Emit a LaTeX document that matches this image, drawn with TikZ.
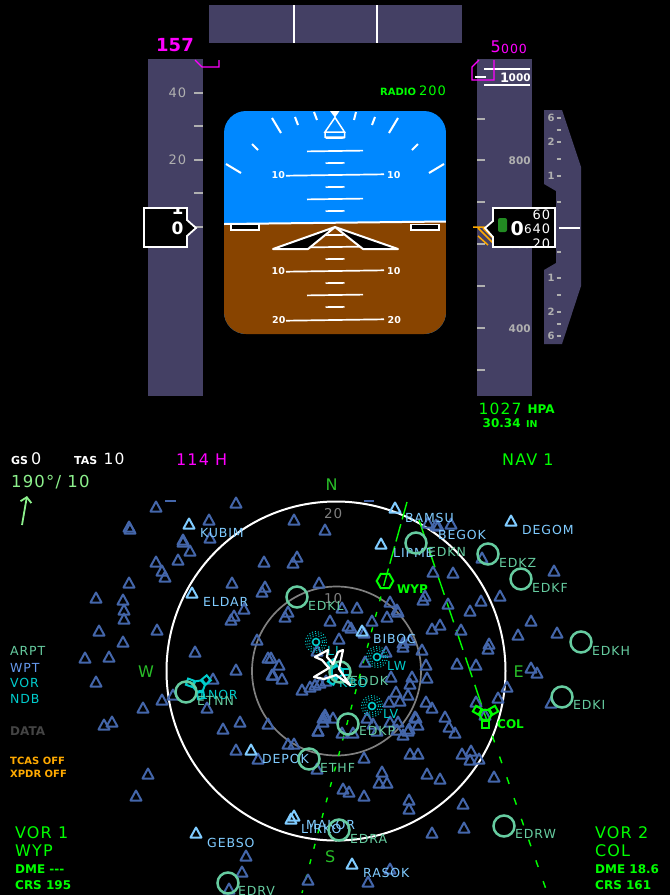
\documentclass[tikz,border=0pt]{standalone}
\usepackage{fontspec}
\setmainfont[LetterSpace=7,BoldFeatures={LetterSpace=0}]{DejaVu Sans}
\usetikzlibrary{arrows.meta,shapes.geometric}
\definecolor{tape}{RGB}{68,64,100}
\definecolor{sky}{RGB}{0,136,255}
\definecolor{ground}{RGB}{136,68,0}
\definecolor{scalegray}{RGB}{176,176,176}
\definecolor{navgreen}{RGB}{0,255,0}
\definecolor{compass}{RGB}{40,190,40}
\definecolor{airport}{RGB}{102,204,160}
\definecolor{waypoint}{RGB}{128,204,255}
\definecolor{navblue}{RGB}{68,102,170}
\definecolor{radio}{RGB}{0,204,204}
\definecolor{amber}{RGB}{255,170,0}
\definecolor{windgreen}{RGB}{140,240,140}
\definecolor{bugpink}{RGB}{255,0,255}
\definecolor{wptblue}{RGB}{102,153,238}
\definecolor{datagray}{RGB}{68,68,68}
\definecolor{pilotgreen}{RGB}{34,139,34}
\newcommand{\fs}[1]{\fontsize{#1}{#1}\selectfont}
\newcommand{\vorsym}[4]{%
  \begin{scope}[shift={(#1,#2)},#4,line width=2]
    \draw (#3:6) -- (#3+60:6) -- (#3+120:6) -- (#3+180:6) -- (#3+240:6) -- (#3+300:6) -- cycle;
    \foreach \a in {90,210,330}
      \node[draw,rectangle,minimum size=6.5,inner sep=0,rotate={-(\a+(#3))}] at (#3+\a:9.5) {};
  \end{scope}}
\tikzset{
  txt/.style={inner sep=0,anchor=west,text depth=0pt},
  tick/.style={scalegray,line width=1.5},
  rung/.style={white,line width=1.7},
  bank/.style={white,line width=2},
  course/.style={navgreen,line width=1.4},
  box/.style={white,fill=black,line width=1.8}
}
\begin{document}
\begin{tikzpicture}[x=1pt,y=-1pt]
  \useasboundingbox (0,0) rectangle (670,895);
  \fill[black] (0,0) rectangle (670,895);

  % Heading strip
  \fill[tape] (209,5) rectangle (462,43);
  \draw[white,line width=2] (293.5,5) -- (293.5,43) (376.5,5) -- (376.5,43);

  % Speed tape
  \fill[tape] (148,59) rectangle (203,396);
  \foreach \y in {93,126,160,193,227}
    \draw[tick] (194,\y) -- (203,\y);
  \node[txt,scalegray,font=\fs{13}] (spd40) at (168.5,93) {40};
  \node[txt,scalegray,font=\fs{13}] (spd20) at (168.5,160) {20};
  \draw[bugpink,line width=1.4] (195,60) -- (202,67) -- (219,67) -- (219,60);
  \node[txt,bugpink,font=\fs{18}\bfseries] (spdset) at (156,45) {157};
  \draw[box] (144,208) -- (187,208) -- (187,220) -- (196,228) -- (187,236) -- (187,247) -- (144,247) -- cycle;
  \begin{scope}
    \clip (145,209) rectangle (186,246);
    \node[white,inner sep=0,anchor=base,font=\fs{17}\bfseries] (spdtop) at (177.5,214) {1};
    \node[white,inner sep=0,anchor=base,font=\fs{17}\bfseries] (spdlow) at (177.5,234) {0};
  \end{scope}

  % Attitude ball
  \begin{scope}
    \clip[rounded corners=22] (224,111) rectangle (446,334);
    \fill[sky] (224,111) rectangle (446,334);
    \fill[ground] (224,224) -- (446,221.5) -- (446,334) -- (224,334) -- cycle;
    \draw[white,line width=2] (224,224) -- (446,221.5);
  \end{scope}
  \foreach \y in {138,163,187,211,235,259,283,307}
    \draw[rung] (325.5,\y+0.13) -- (344.5,\y-0.13);
  \foreach \y in {151,199,247,295}
    \draw[rung] (307,\y+0.4) -- (363,\y-0.4);
  \foreach \y in {175,271,320}
    \draw[rung] (286,\y+0.7) -- (384,\y-0.7);
  \foreach \name/\x/\y/\lab in {pl/271.5/175/10,pr/387/174.5/10,ql/271.5/271/10,qr/387/270.5/10,rl/272/320/20,rr/387.5/319.5/20}
    \node[txt,white,font=\fs{9.5}\bfseries] (\name) at (\x,\y) {\lab};

  % Bank marks
  \draw[bank] (272,118) -- (281,133) (295,117) -- (298,125) (314,112) -- (317,120)
    (354,120) -- (356,112) (372,125) -- (375,117) (389,133) -- (398,118)
    (252,144) -- (258,150) (412,150) -- (418,144) (226,164) -- (241,173) (429,173) -- (444,164);
  \fill[white] (330,111) -- (339.5,111) -- (335,117.5) -- cycle;
  \draw[white,line width=1.5] (335,117.5) -- (325,132) -- (344.5,132) -- cycle (325,132) rectangle (344.5,137);

  % Aircraft reference
  \draw[box] (231,224.5) rectangle (259,230);
  \draw[box] (411,224.5) rectangle (439,230);
  \fill[black] (273,249) -- (335,227) -- (308,249) -- cycle;
  \fill[black] (398,249) -- (335,227) -- (363,249) -- cycle;
  \draw[white,line width=2,line join=round] (273,249) -- (335,227) -- (398,249) -- (363,249) -- (335,227) -- (308,249) -- cycle;

  % Radio altitude
  \node[txt,navgreen,font=\fs{10}\bfseries] (radiolbl) at (380,92) {RADIO};
  \node[txt,navgreen,font=\fs{13}] (radioval) at (419,91) {200};

  % Altitude tape
  \fill[tape] (477,59) rectangle (532,396);
  \foreach \y in {119,160,202,244,286,328,370}
    \draw[tick] (477,\y) -- (485,\y);
  \draw[white,line width=1.5] (475,77) -- (486,77) (484,69) -- (530,69) (484,85) -- (530,85);
  \node[txt,white,font=\fs{13}\bfseries] (alt1) at (500,77.5) {1};
  \node[txt,white,font=\fs{10.5}\bfseries] (alt000) at (508.5,78) {000};
  \node[txt,scalegray,font=\fs{10.5}\bfseries] (alt800) at (508.5,160.5) {800};
  \node[txt,scalegray,font=\fs{10.5}\bfseries] (alt600) at (508.5,244.5) {600};
  \node[txt,scalegray,font=\fs{10.5}\bfseries] (alt400) at (508.5,328.5) {400};
  \draw[bugpink,line width=1.4] (479,60) -- (472,67) -- (472,80) -- (494,80) -- (494,60);
  \node[txt,bugpink,font=\fs{16}] (altset5) at (490.5,47) {5};
  \node[txt,bugpink,font=\fs{12.5}] (altset0) at (501,48.5) {000};

  % Vertical speed
  \fill[tape] (544,110) -- (562,110) -- (581,167) -- (581,286) -- (562,344) -- (544,344) -- (544,270)
    -- (556,263) -- (556,191) -- (544,184) -- cycle;
  \foreach \y in {118,130,142,159,176,202,252,278,295,312,324,336}
    \draw[tick] (556.5,\y) -- (560.5,\y);
  \draw[white,line width=2] (559,227.5) -- (580,227.5);
  \foreach \name/\y/\lab in {va/118/6,vb/142/2,vc/176/1,vd/278/1,ve/312/2,vf/336/6}
    \node[txt,scalegray,font=\fs{10}\bfseries] (\name) at (547.5,\y) {\lab};

  % Amber hatch and altitude readout
  \draw[amber,line width=1.5] (473,227) -- (485,227) (478,228) -- (493,243) (483,228) -- (493,238) (478,236) -- (488,245);
  \draw[box] (493,208) -- (555,208) -- (555,247) -- (493,247) -- (493,237) -- (485,228) -- (493,221) -- cycle;
  \fill[pilotgreen,rounded corners=2] (498,218) rectangle (507,232);
  \node[txt,white,font=\fs{19}\bfseries] (altbig) at (510.5,228) {0};
  \node[txt,white,font=\fs{12}] (altmid) at (524,229) {6};
  \begin{scope}
    \clip (494,209) rectangle (554,246);
    \node[txt,white,font=\fs{13}] (alt60) at (532.5,215) {60};
    \node[txt,white,font=\fs{13}] (alt40) at (532.5,229) {40};
    \node[txt,white,font=\fs{13}] (alt20) at (532.5,243.5) {20};
  \end{scope}
  \node[txt,navgreen,font=\fs{15.5}] (qnh) at (478.5,408.5) {1027};
  \node[txt,navgreen,font=\fs{12}\bfseries] (hpa) at (527.5,409.5) {HPA};
  \node[txt,navgreen,font=\fs{12}\bfseries] (inhg) at (482.5,423) {30.34};
  \node[txt,navgreen,font=\fs{9.5}\bfseries] (inlbl) at (526,424) {IN};

  % Wind and speeds
  \node[txt,white,font=\fs{11}\bfseries] (gslbl) at (11,460) {GS};
  \node[txt,white,font=\fs{16}] (gsval) at (31,458.5) {0};
  \node[txt,white,font=\fs{11}\bfseries] (taslbl) at (74,460) {TAS};
  \node[txt,white,font=\fs{15.5}] (tasval) at (103.5,458.5) {10};
  \node[txt,windgreen,font=\fs{16.5}] (wind) at (11,481) {190°/ 10};
  \coordinate (windtail) at (22,525);
  \coordinate (windtip) at (27,496);
  \draw[windgreen,line width=1.8,-{Straight Barb[length=5,width=11]}] (windtail) -- (windtip);
  \node[txt,bugpink,font=\fs{16}] (hdg) at (176,460) {114 H};
  \node[txt,navgreen,font=\fs{16}] (navmode) at (502,460) {NAV 1};

  % Range rings
  \draw[white,line width=2] (336,671) circle (169.5);
  \draw[gray,line width=1.7] (336.5,671) circle (84.5);
  \foreach \name/\x/\y/\lab in {north/325.5/485/N,west/138/672/W,east/513.5/672/E,south/325/857/S}
    \node[txt,compass,font=\fs{16}] (\name) at (\x,\y) {\lab};
  \node[txt,gray,font=\fs{13.5}] (rng20) at (324,513) {20};
  \node[txt,gray,font=\fs{13.5}] (rng10) at (324,598) {10};

  % Course lines
  \coordinate (wyp) at (385,581);
  \coordinate (col) at (485,715);
  \coordinate (crsa) at (407,502);
  \coordinate (crsb) at (302,893);
  \coordinate (crsc) at (419,520);
  \coordinate (crsd) at (548,895);
  \draw[course,dash pattern=on 18 off 5] (crsa) -- (wyp);
  \draw[course,dash pattern=on 5 off 11] (wyp) -- (crsb);
  \draw[course,dash pattern=on 21 off 8] (crsc) -- (col);
  \draw[course,dash pattern=on 7 off 15] (col) -- (crsd);

  % Fixes
  \foreach \x/\y in {156/507,236/503,129/527,130/529,209/520,294/520,325/530,183/540,183/542,210/538,190/551,178/560,
    156/562,162/571,165/577,264/562,297/557,293/563,129/583,96/598,123/600,124/610,124/619,99/631,157/630,123/642,
    85/658,109/657,195/652,232/583,265/587,262/592,319/583,244/609,234/616,231/620,288/612,285/617,330/621,257/640,
    268/658,279/665,236/670,317/651,428/523,436/525,438/526,451/524,482/558,433/572,453/573,554/571,500/596,481/601,
    448/604,470/611,531/621,518/635,557/633,425/596,423/600,390/602,397/610,398/612,387/617,372/621,357/608,342/608,
    348/626,351/628,364/633,339/639,432/629,440/625,461/630,489/644,488/649,403/643,403/647,410/640,422/650,386/652,
    365/662,426/665,457/664,476/665,531/668,537/673,271/658,273/675,282/679,302/690,310/687,315/685,320/683,326/681,
    391/677,412/677,427/678,410/684,396/692,408/695,389/702,400/701,426/702,432/708,445/717,416/718,418/725,449/727,
    455/733,409/729,403/735,397/730,373/724,367/718,333/718,507/687,498/698,476/702,485/715,551/703,410/754,418/754,
    364/758,462/754,471/751,470/760,479/759,427/774,440/779,494/777,382/772,379/783,387/783,343/789,349/792,364/796,
    409/800,409/809,463/804,464/828,432/833,390/869,368/882,342/733,353/733,96/682,272/675,213/679,173/695,162/700,
    143/708,207/708,240/722,223/729,268/724,112/722,104/725,236/750,258/759,288/744,294/744,317/769,318/731,323/718,
    325/715,148/774,136/796,246/856,242/872,229/889,308/880,325/717,323/722,318/731,377/731,390/722,415/717,398/722,408/731}
    \draw[navblue,line width=2,line join=round] (\x,\y-5.5) -- (\x+5.5,\y+4.5) -- (\x-5.5,\y+4.5) -- cycle;
  \draw[navblue,line width=2] (165,501) -- (176,501) (364,501) -- (374,501);
  \foreach \x/\y in {189/524,192/593,395/508,381/544,511/521,362/631,251/750,294/816,291/819,196/833,352/864}
    \draw[waypoint,line width=2,line join=round] (\x,\y-5.5) -- (\x+5.5,\y+4.5) -- (\x-5.5,\y+4.5) -- cycle;
  \foreach \name/\x/\y in {KUBIM/200/533,ELDAR/203/602,BAMSU/405/518,BEGOK/438/535,DEGOM/522/530,LIPME/393/553,
    BIBOC/373/639,DEPOK/262/759,MAKOR/306/825,LIRKO/301/829,GEBSO/207/843,RASOK/363/873}
    \node[txt,waypoint,font=\fs{12.5}] (\name) at (\x,\y) {\name};

  % Radio beacons
  \foreach \name/\x/\y in {LJ/316/642,LW/377/657,LV/372/706}{
    \draw[radio,line width=1.6] (\x,\y) circle (3.5);
    \draw[radio,line width=1,dotted] (\x,\y) circle (6.5) (\x,\y) circle (8.5) (\x,\y) circle (10.5);
  }
  \node[txt,radio,font=\fs{12.5}] (LJlbl) at (327,651) {LJ};
  \node[txt,radio,font=\fs{12.5}] (LWlbl) at (387,665.5) {LW};
  \node[txt,radio,font=\fs{12.5}] (LVlbl) at (383,713.5) {LV};
  \vorsym{199}{686}{-10}{radio}
  \vorsym{337}{672}{30}{radio}
  \node[txt,radio,font=\fs{12.5}] (LNOR) at (200,695) {LNOR};
  \node[txt,radio,font=\fs{12.5}] (KBO) at (339,683) {KBO};

  % Airports
  \foreach \x/\y in {297/597,416/543,488/554,521/579,581/642,562/697,348/724,309/759,186/692,339/830,504/826,228/883,340/672}
    \draw[airport,line width=2.5] (\x,\y) circle (10.5);
  \foreach \name/\x/\y in {EDKL/308/606,EDKN/428/552,EDKZ/499/563,EDKF/532/588,EDKH/592/651,EDKI/573/705,EDKP/359/731,
    ETHF/320/768,ETNN/197/701,EDRA/350/839,EDRW/515/834,EDRV/238/891,EDDK/350/681}
    \node[txt,airport,font=\fs{12.5}] (\name) at (\x,\y) {\name};

  % Tuned stations
  \draw[navgreen,line width=2] (393.3,581) -- (389.2,588.2) -- (380.8,588.2) -- (376.7,581) -- (380.8,573.8) -- (389.2,573.8) -- cycle;
  \vorsym{485.5}{715}{0}{navgreen}
  \node[txt,navgreen,font=\fs{12}\bfseries] (WYP) at (397,589.5) {WYP};
  \node[txt,navgreen,font=\fs{12}\bfseries] (COL) at (497,724) {COL};

  % Own aircraft
  \draw[white,line width=2.2,line join=round] (350,685) -- (339,669) -- (343,650) -- (338,652) -- (333,664) -- (327,657)
    -- (328,650) -- (315,657) -- (322,660) -- (329,668) -- (314,677) -- (324,679) -- (336,675) -- cycle;

  % Legend
  \node[txt,airport,font=\fs{12.5}] (lgarpt) at (10,651) {ARPT};
  \node[txt,wptblue,font=\fs{12.5}] (lgwpt) at (10,667.5) {WPT};
  \node[txt,radio,font=\fs{12.5}] (lgvor) at (10,683) {VOR};
  \node[txt,radio,font=\fs{12.5}] (lgndb) at (10,699) {NDB};
  \node[txt,datagray,font=\fs{12}\bfseries] (lgdata) at (10,731) {DATA};
  \node[txt,amber,font=\fs{10}\bfseries] (tcas) at (10,761) {TCAS OFF};
  \node[txt,amber,font=\fs{10}\bfseries] (xpdr) at (10,774) {XPDR OFF};

  % Navaid read-outs
  \foreach \name/\x/\y/\fsz/\lab in {voraa/15/832.5/16/VOR 1,vorab/15/851/16/WYP,vorba/595/832.5/16/VOR 2,vorbb/595/851/16/COL}
    \node[txt,navgreen,font=\fs{\fsz}] (\name) at (\x,\y) {\lab};
  \foreach \name/\x/\y/\lab in {dmea/15/869/DME -{}-{}-,crsa1/15/885/CRS 195,dmeb/595/869/DME 18.6,crsb1/595/885/CRS 161}
    \node[txt,navgreen,font=\fs{12}\bfseries] (\name) at (\x,\y) {\lab};
\end{tikzpicture}
\end{document}
